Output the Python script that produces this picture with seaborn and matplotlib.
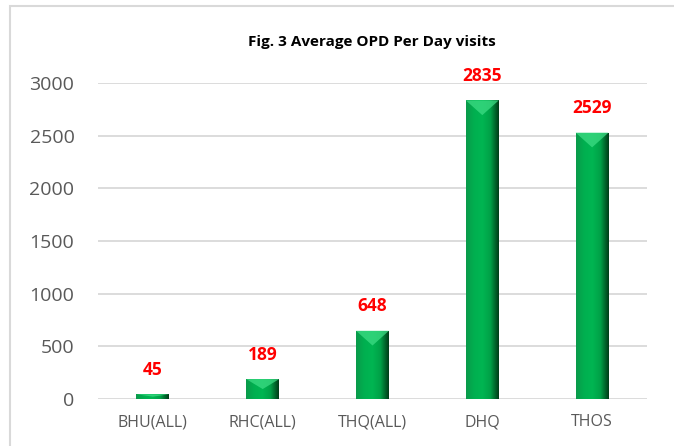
import numpy as np
import pandas as pd
import matplotlib
matplotlib.use("Agg")
import matplotlib.pyplot as plt
import seaborn as sns
from matplotlib.colors import LinearSegmentedColormap
from matplotlib.patches import Rectangle

categories = ["BHU(ALL)", "RHC(ALL)", "THQ(ALL)", "DHQ", "THOS"]
values = [45, 189, 648, 2835, 2529]
yticks = [0, 500, 1000, 1500, 2000, 2500, 3000]
title = "Fig. 3 Average OPD Per Day visits"

sns.set_theme(style="white")
plt.rcParams['font.family'] = ['Open Sans', 'DejaVu Sans']

fig = plt.figure(figsize=(6.74, 4.46), dpi=100)
ax = fig.add_axes([98/674, 1-399/446, 549/674, 316/446])

df = pd.DataFrame({"cat": categories, "val": values})
sns.barplot(data=df, x="cat", y="val", ax=ax, color="#00B050", width=0.3,
            saturation=1, edgecolor="none", zorder=3)

ax.set_ylim(0, 3000)
ax.set_yticks(yticks)
ax.set_xlim(-0.5, len(categories) - 0.5)
ax.yaxis.grid(True, color="#d9d9d9", linewidth=1.3, zorder=0)
ax.set_axisbelow(True)
for s in ax.spines.values():
    s.set_visible(False)
ax.set_xlabel("")
ax.set_ylabel("")
ax.tick_params(axis="y", labelsize=14, labelcolor="#595959", length=0, pad=17)
ax.tick_params(axis="x", labelsize=11.5, labelcolor="#595959", length=0, pad=11)

cmap = LinearSegmentedColormap.from_list("g", ["#0a9a4a", "#00b050", "#00b552", "#00a047", "#003d18"])
grad = np.linspace(0, 1, 64).reshape(1, -1)
for p, v in zip(ax.patches, values):
    x0, w = p.get_x(), p.get_width()
    im = ax.imshow(grad, cmap=cmap, extent=[x0, x0 + w, 0, v], aspect="auto",
                   zorder=4, origin="lower")
    im.set_clip_path(p)
    # top bevel highlight (chevron)
    hh = min(v * 0.5, 140)
    tri = plt.Polygon([[x0, v], [x0 + w, v], [x0 + w*0.5, v - hh]],
                      closed=True, color="#3ddc84", alpha=0.75, zorder=5, lw=0)
    ax.add_patch(tri)
    ax.annotate(str(v), (x0 + w/2, v), xytext=(0, 11), textcoords="offset points",
                ha="center", va="bottom", color="#ff0000", fontsize=12.5, fontweight="bold")
ax.set_ylim(0, 3000)
ax.set_xlim(-0.5, len(categories) - 0.5)

fig.text(372/674, 1-42/446, title, ha="center", va="center", fontsize=11,
         fontweight="bold", color="#000000")

border = Rectangle((10/674, -0.1), 1.1, 1 - 6/446 + 0.1, transform=fig.transFigure,
                   fill=False, edgecolor="#d9d9d9", linewidth=1.5)
fig.patches.append(border)

fig.savefig("out.png", dpi=100)
